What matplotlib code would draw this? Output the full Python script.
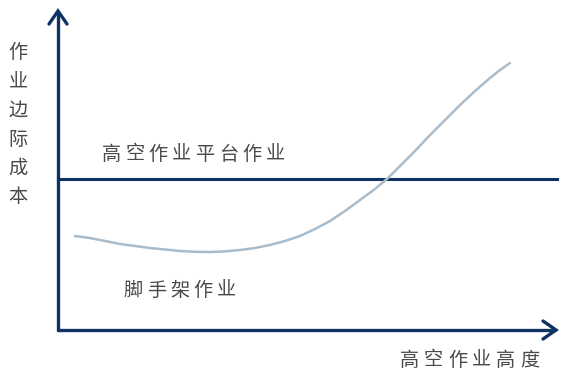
import matplotlib
matplotlib.use("Agg")
import matplotlib.pyplot as plt

plt.rcParams['font.family'] = ['Noto Sans CJK SC', 'DejaVu Sans']

# Working height (x) against marginal cost (y) for scaffolding, arbitrary units
scaffold_height = [75, 90, 105, 120, 135, 150, 165, 180, 195, 210, 225, 240,
                   255, 270, 285, 300, 315, 330, 345, 360, 375, 388, 400, 415,
                   430, 445, 460, 475, 490, 500, 510]
scaffold_cost = [140, 138, 135, 132, 130, 128, 126.5, 125, 124.2, 124, 124.6,
                 126, 128, 131, 135, 140, 147, 155, 165, 176, 187, 198, 210,
                 225, 241, 256, 271, 285, 298, 306, 313]

# Aerial work platform: constant marginal cost
platform_cost = 197

y_label = "作业边际成本"
x_label = "高空作业高度"
platform_label = "高空作业平台作业"
scaffold_label = "脚手架作业"

NAVY = "#0f3264"
CURVE = "#a9bccb"
TEXT = "#4a4a4a"

W, H = 565, 376
fig = plt.figure(figsize=(W / 100, H / 100), dpi=100)
ax = fig.add_axes([0, 0, 1, 1])
ax.set_xlim(0, W)
ax.set_ylim(0, H)
ax.axis("off")

origin_x, origin_y = 58, 46

# axes with open arrow heads
ax.plot([origin_x, origin_x], [origin_y, H - 12], color=NAVY, lw=2.4,
        solid_capstyle="round")
ax.plot([origin_x, W - 10], [origin_y, origin_y], color=NAVY, lw=2.4,
        solid_capstyle="round")
ax.plot([origin_x - 9, origin_x, origin_x + 9], [H - 24, H - 11, H - 24],
        color=NAVY, lw=2.4, solid_capstyle="round", solid_joinstyle="miter")
ax.plot([W - 22, W - 9, W - 22], [origin_y + 9, origin_y, origin_y - 9],
        color=NAVY, lw=2.4, solid_capstyle="round", solid_joinstyle="miter")

# platform marginal cost
ax.plot([origin_x, W - 8], [platform_cost, platform_cost], color=NAVY, lw=2.2)

# scaffold marginal cost curve
ax.plot(scaffold_height, scaffold_cost, color=CURVE, lw=1.8,
        solid_capstyle="round", solid_joinstyle="round")


def spaced_text(s, x0, y, pitch, vertical=False, size=13.8):
    for i, ch in enumerate(s):
        if vertical:
            ax.text(x0, y - i * pitch, ch, ha="center", va="center",
                    fontsize=size, color=TEXT, fontweight="medium")
        else:
            ax.text(x0 + i * pitch, y, ch, ha="center", va="center",
                    fontsize=size, color=TEXT, fontweight="medium")


spaced_text(platform_label, 111.5, H - 154, 23.4)
spaced_text(scaffold_label, 133.5, H - 290, 23.2)
spaced_text(x_label, 409, H - 360, 24.2)
spaced_text(y_label, 18, H - 53, 28.8, vertical=True)

fig.savefig("out.png", dpi=100)
